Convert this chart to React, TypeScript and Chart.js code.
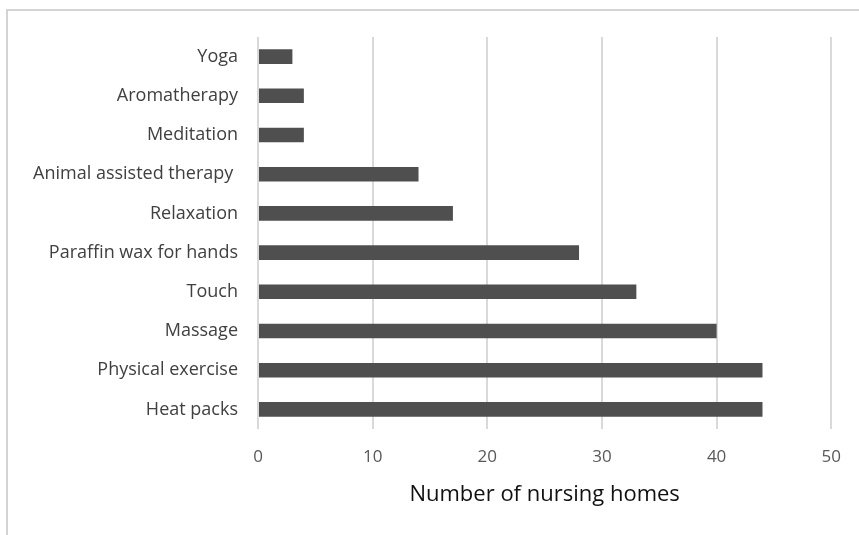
import React, { useEffect, useRef } from "react";
import { Chart, registerables } from "chart.js";

Chart.register(...registerables);

const categories = [
  "Yoga",
  "Aromatherapy",
  "Meditation",
  "Animal assisted therapy ",
  "Relaxation",
  "Paraffin wax for hands",
  "Touch",
  "Massage",
  "Physical exercise",
  "Heat packs",
];
const values = [3, 4, 4, 14, 17, 28, 33, 40, 44, 44];
const xTitle = "Number of nursing homes";
const xMin = 0;
const xMax = 50;
const xStep = 10;

export default function App() {
  const ref = useRef<HTMLCanvasElement | null>(null);

  useEffect(() => {
    if (!ref.current) return;
    const font = "'Open Sans', 'Liberation Sans', sans-serif";
    const chart = new Chart(ref.current, {
      type: "bar",
      data: {
        labels: categories,
        datasets: [
          {
            data: values,
            backgroundColor: "#4f4f4f",
            borderWidth: 0,
            barPercentage: 0.93,
            categoryPercentage: 0.4,
          },
        ],
      },
      options: {
        indexAxis: "y",
        animation: false,
        responsive: false,
        maintainAspectRatio: false,
        layout: { padding: { left: 0, right: 24, top: 37, bottom: 0 } },
        plugins: {
          legend: { display: false },
          tooltip: { enabled: false },
        },
        scales: {
          x: {
            min: xMin,
            max: xMax,
            ticks: {
              stepSize: xStep,
              color: "#595959",
              font: { family: font, size: 17 },
              padding: 18,
            },
            grid: { color: "#d9d9d9", lineWidth: 2, drawTicks: false },
            border: { display: false },
            title: {
              display: true,
              text: xTitle,
              color: "#111111",
              font: { family: font, size: 22 },
              padding: { top: 0, bottom: 27 },
            },
            afterFit: (s: any) => {
              s.height = 106;
            },
          },
          y: {
            ticks: {
              color: "#404040",
              font: { family: font, size: 18 },
              padding: 20,
            },
            grid: { display: false, drawTicks: false },
            border: { display: false },
            afterFit: (s: any) => {
              s.width = 258;
            },
          },
        },
      },
    });
    return () => chart.destroy();
  }, []);

  return (
    <div
      style={{
        position: "fixed",
        left: 0,
        top: 0,
        width: 859,
        height: 535,
        background: "#ffffff",
        overflow: "hidden",
      }}
    >
      <canvas ref={ref} width={859} height={535} style={{ display: "block" }} />
      <div
        style={{
          position: "absolute",
          left: 6,
          top: 9,
          width: 900,
          height: 600,
          borderTop: "2px solid #d4d4d4",
          borderLeft: "2px solid #d4d4d4",
          pointerEvents: "none",
        }}
      />
    </div>
  );
}
